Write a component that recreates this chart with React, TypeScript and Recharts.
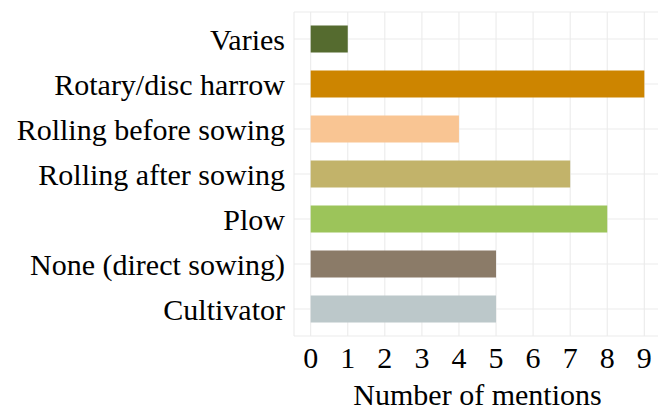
import { Bar, BarChart, CartesianGrid, Cell, XAxis, YAxis } from "recharts";

const categories = [
  "Varies",
  "Rotary/disc harrow",
  "Rolling before sowing",
  "Rolling after sowing",
  "Plow",
  "None (direct sowing)",
  "Cultivator",
];
const mentions = [1, 9, 4, 7, 8, 5, 5];
const colors = [
  "#556B2F",
  "#CD8500",
  "#F9C593",
  "#C2B36A",
  "#9CC45A",
  "#8B7B68",
  "#BCC8CA",
];
const xTicks = [0, 1, 2, 3, 4, 5, 6, 7, 8, 9];

const data = categories.map((name, i) => ({ name, value: mentions[i] }));

const font = "'Liberation Serif', 'Times New Roman', serif";

export default function App() {
  return (
    <div style={{ position: "fixed", left: 0, top: 0, background: "#fff" }}>
      <BarChart
        width={658}
        height={408}
        data={data}
        layout="vertical"
        margin={{ top: 12, right: -3, left: 0, bottom: 0 }}
        style={{ fontFamily: font }}
      >
        <CartesianGrid stroke="#EBEBEB" strokeWidth={1.1} />
        <XAxis
          type="number"
          domain={[-0.45, 9.45]}
          ticks={xTicks}
          allowDataOverflow
          height={72}
          tickLine={false}
          axisLine={false}
          tickSize={0}
          tickMargin={11}
          tick={{ fontSize: 30, fill: "#000", fontFamily: font }}
          label={({ viewBox }: any) => (
            <text
              x={viewBox.x + viewBox.width / 2}
              y={viewBox.y + 69}
              textAnchor="middle"
              fontSize={30}
              fill="#000"
              fontFamily={font}
            >
              Number of mentions
            </text>
          )}
        />
        <YAxis
          type="category"
          dataKey="name"
          width={294}
          padding={{ top: 4.5, bottom: 4.5 }}
          tickLine={false}
          axisLine={false}
          tickSize={0}
          tickMargin={9}
          interval={0}
          tick={{ fontSize: 30, fill: "#000", fontFamily: font }}
        />
        <Bar dataKey="value" barSize={27} isAnimationActive={false}>
          {data.map((d, i) => (
            <Cell key={d.name} fill={colors[i]} />
          ))}
        </Bar>
      </BarChart>
    </div>
  );
}
